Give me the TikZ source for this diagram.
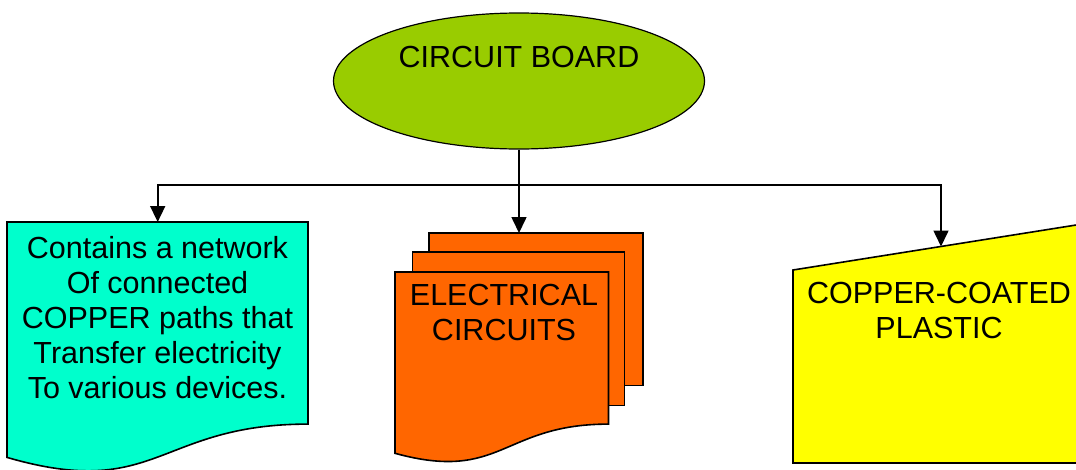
\documentclass[tikz,border=0pt]{standalone}
\usepackage{fontspec}
\setmainfont{Liberation Sans}
\usetikzlibrary{arrows.meta,shapes.geometric}
\definecolor{cbgreen}{HTML}{99CC00}
\definecolor{doccyan}{HTML}{00FFCC}
\definecolor{docorange}{HTML}{FF6600}
\definecolor{docyellow}{HTML}{FFFF00}
\begin{document}
\begin{tikzpicture}[x=1pt,y=-1pt,
  shapeline/.style={draw=black,line width=1.6pt,line join=miter},
  conn/.style={draw=black,line width=1.6pt},
  arr/.style={conn,-{Triangle[width=15pt,length=16pt]}},
  lbl/.style={font=\fontsize{30.5}{35}\selectfont,align=center,inner sep=0pt,anchor=north}]
\clip (0,0) rectangle (1076,469);
% top ellipse
\node[ellipse,draw=black,line width=1.2pt,fill=cbgreen,minimum width=371pt,minimum height=136pt,inner sep=0pt] (cb) at (519,81) {};
\node[font=\fontsize{30.5}{35}\selectfont,inner sep=0pt,anchor=base] (cbt) at (519,67.9) {CIRCUIT BOARD};
% cyan document
\draw[shapeline,fill=doccyan] (7,222) -- (308,222) -- (308,424.1)
  .. controls (157.5,424.1) and (157.5,501.1) .. (7,457.4) -- cycle;
\node[lbl] (t1) at (157.5,236.6) {Contains a network\\Of connected\\COPPER paths that\\Transfer electricity\\To various devices.};
% orange multidocument
\draw[shapeline,fill=docorange] (429.1,233) rectangle (643,385.6);
\draw[shapeline,fill=docorange] (412.6,252.2) rectangle (624.6,405.3);
\draw[shapeline,fill=docorange] (395,272) -- (608.5,272) -- (608.5,424.1)
  .. controls (501.8,424.1) and (501.8,482.6) .. (395,453.3) -- cycle;
\node[lbl] (t2) at (504,283.6) {ELECTRICAL\\CIRCUITS};
% yellow manual input
\draw[shapeline,fill=docyellow] (793,270) -- (1095,222) -- (1095,463) -- (793,463) -- cycle;
\node[lbl] (t3) at (939,281.6) {COPPER-COATED\\PLASTIC};
% connector targets
\coordinate (j) at (519,185);
\coordinate (cyantop) at (157.7,222);
\coordinate (ortop) at (519,233);
\coordinate (yeltop) at (941,246.5);
\draw[conn] (cb.south) -- (j);
\draw[arr] (j) -| (cyantop);
\draw[arr] (j) -| (yeltop);
\draw[arr] (j) -- (ortop);
\end{tikzpicture}
\end{document}
